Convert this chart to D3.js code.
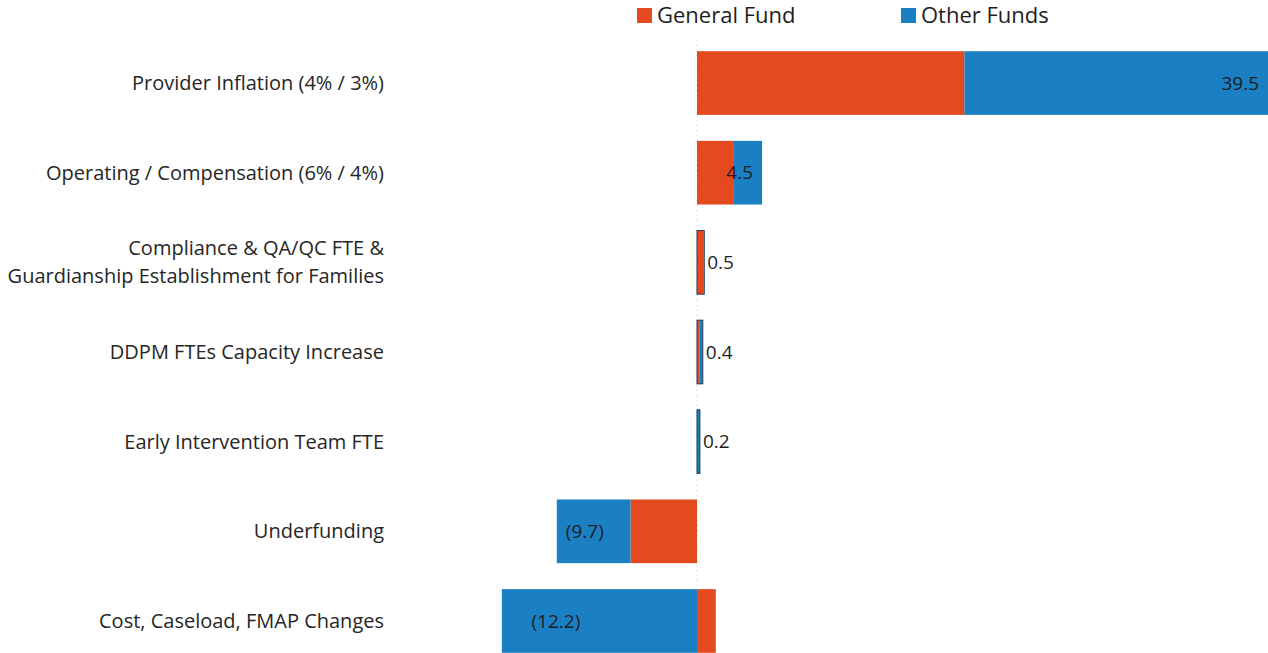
<!DOCTYPE html>
<html>
<head>
<meta charset="utf-8">
<script src="https://cdn.jsdelivr.net/npm/d3@7"></script>
<style>
  html, body { margin: 0; padding: 0; background: #fff; }
  svg { display: block; font-family: "Open Sans", sans-serif; }
</style>
</head>
<body>
<div class="barChart"></div>
<script>
var categories = [
  'Provider Inflation (4% / 3%)',
  'Operating / Compensation (6% / 4%)',
  'Compliance & QA/QC FTE &\nGuardianship Establishment for Families',
  'DDPM FTEs Capacity Increase',
  'Early Intervention Team FTE',
  'Underfunding',
  'Cost, Caseload, FMAP Changes'
];
var generalFund = [18.5, 2.5, 0.45, 0.2, 0, -4.6, 1.3];
var otherFunds = [21.0, 2.0, 0.05, 0.2, 0.2, -5.1, -13.5];
var totalLabels = ['39.5', '4.5', '0.5', '0.4', '0.2', '(9.7)', '(12.2)'];
var seriesNames = ['General Fund', 'Other Funds'];

var width = 1268, height = 653;
var colors = {'General Fund': '#e4491f', 'Other Funds': '#1b7fc3'};

var rows = categories.map(function(c, i) {
  return {cat: c, 'General Fund': generalFund[i], 'Other Funds': otherFunds[i], label: totalLabels[i],
          total: generalFund[i] + otherFunds[i]};
});

var svg = d3.select('.barChart')
  .append('svg')
  .attr('width', width)
  .attr('height', height);

// Scale
var xscale = d3.scaleLinear()
  .domain([0, 39.5])
  .range([697, 1268]);

var yscale = d3.scaleBand()
  .domain(categories)
  .range([38.2, 665.8])
  .paddingInner(0.29)
  .paddingOuter(0.145);

var stack = d3.stack()
  .keys(seriesNames)
  .offset(d3.stackOffsetDiverging);

var layers = stack(rows);

// zero line
svg.append('line')
  .attr('x1', xscale(0)).attr('x2', xscale(0))
  .attr('y1', 40).attr('y2', height)
  .attr('stroke', '#c8c8c8')
  .attr('stroke-dasharray', '1,4');

svg.selectAll('g.layer')
  .data(layers)
  .enter().append('g')
  .attr('class', 'layer')
  .attr('fill', function(d) { return colors[d.key]; })
  .selectAll('rect')
  .data(function(d) { return d; })
  .enter().append('rect')
  .attr('x', function(d) { return xscale(Math.min(d[0], d[1])); })
  .attr('y', function(d) { return yscale(d.data.cat); })
  .attr('width', function(d) { return Math.abs(xscale(d[1]) - xscale(d[0])); })
  .attr('height', yscale.bandwidth());

// thin outline on the very small bars
svg.selectAll('rect.outline')
  .data(rows.filter(function(d) { return Math.abs(d.total) < 1; }))
  .enter().append('rect')
  .attr('class', 'outline')
  .attr('x', xscale(0))
  .attr('y', function(d) { return yscale(d.cat); })
  .attr('width', function(d) { return xscale(d.total) - xscale(0); })
  .attr('height', yscale.bandwidth())
  .attr('fill', 'none')
  .attr('stroke', '#203a5a')
  .attr('stroke-width', 1);

// value labels
svg.selectAll('text.value')
  .data(rows)
  .enter().append('text')
  .attr('class', 'value')
  .attr('y', function(d) { return yscale(d.cat) + yscale.bandwidth() / 2; })
  .attr('dy', '0.35em')
  .attr('font-size', 19)
  .attr('fill', '#1e1e1e')
  .attr('x', function(d) {
    if (d.total < 0) return xscale(d.total * 0.8);
    var w = xscale(d.total) - xscale(0);
    return w > 40 ? xscale(d.total) - 9 : xscale(d.total) + 3;
  })
  .attr('text-anchor', function(d) {
    if (d.total < 0) return 'middle';
    return (xscale(d.total) - xscale(0)) > 40 ? 'end' : 'start';
  })
  .text(function(d) { return d.label; });

// category labels
var cats = svg.selectAll('text.cat')
  .data(categories)
  .enter().append('text')
  .attr('class', 'cat')
  .attr('x', 384)
  .attr('text-anchor', 'end')
  .attr('font-size', 20)
  .attr('fill', '#262626');

cats.each(function(c) {
  var lines = c.split('\n');
  var cy = yscale(c) + yscale.bandwidth() / 2;
  var lh = 28;
  var t = d3.select(this);
  lines.forEach(function(l, i) {
    t.append('tspan')
      .attr('x', 384)
      .attr('y', cy + (i - (lines.length - 1) / 2) * lh)
      .attr('dy', '0.35em')
      .text(l);
  });
});

// legend
var legend = svg.append('g');
var legendX = [637, 901];
seriesNames.forEach(function(s, i) {
  legend.append('rect')
    .attr('x', legendX[i]).attr('y', 8)
    .attr('width', 15).attr('height', 15)
    .attr('fill', colors[s]);
  legend.append('text')
    .attr('x', legendX[i] + 20).attr('y', 15)
    .attr('dy', '0.35em')
    .attr('font-size', 22)
    .attr('fill', '#1e1e1e')
    .text(s);
});
</script>
</body>
</html>
